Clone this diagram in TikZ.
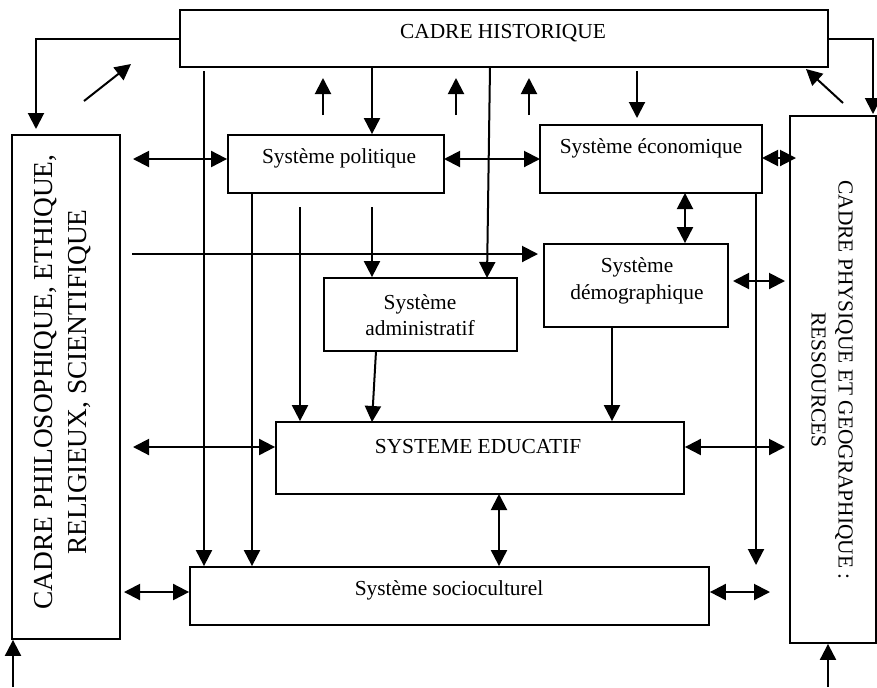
\documentclass[tikz,border=0pt]{standalone}
\usepackage{fontspec}
\setmainfont{Liberation Serif}
\usetikzlibrary{arrows.meta,fit}
\begin{document}
\begin{tikzpicture}[x=0.5pt,y=-0.5pt,
  box/.style={draw,line width=0.9pt,inner sep=0pt},
  lbl/.style={inner sep=0pt,align=center,font=\fontsize{10.7}{13.5}\selectfont},
  big/.style={inner sep=0pt,align=center,font=\fontsize{13.7}{17}\selectfont},
  arr/.style={line width=1pt,-{Triangle[length=8pt,width=8pt]}},
  darr/.style={line width=1pt,{Triangle[length=8pt,width=8pt]}-{Triangle[length=8pt,width=8pt]}}]
\useasboundingbox (0,0) rectangle (877,687);
% boxes
\node[box,fit={(180,10)(828,67)}] (hist) {};
\node[box,fit={(12,135)(120,639)}] (philo) {};
\node[box,fit={(790,116)(876,643)}] (phys) {};
\node[box,fit={(228,135)(444,193)}] (pol) {};
\node[box,fit={(540,125)(762,193)}] (eco) {};
\node[box,fit={(544,244)(728,327)}] (demo) {};
\node[box,fit={(324,278)(517,351)}] (admin) {};
\node[box,fit={(276,422)(684,494)}] (edu) {};
\node[box,fit={(190,567)(709,625)}] (socio) {};
% labels
\node[lbl] (thist) at (503,33) {CADRE HISTORIQUE};
\node[lbl] (tpol) at (339,158) {Système politique};
\node[lbl] (teco) at (651,148) {Système économique};
\node[lbl] (tdemo) at (637,281) {Système\\démographique};
\node[lbl,font=\fontsize{10.7}{13}\selectfont] (tadmin) at (420,315) {Système\\administratif};
\node[lbl] (tedu) at (478,447) {SYSTEME EDUCATIF};
\node[lbl] (tsocio) at (449,590) {Système socioculturel};
\node[big,rotate=90] (tphilo) at (63,382) {CADRE PHILOSOPHIQUE, ETHIQUE,\\RELIGIEUX, SCIENTIFIQUE};
\node[lbl,rotate=-90] (tphys) at (832,380) {CADRE PHYSIQUE ET GEOGRAPHIQUE :\\RESSOURCES};
% free coordinates
\coordinate (ltip) at (36,129);
\coordinate (rtip) at (873,114);
\coordinate (d1a) at (84,101); \coordinate (d1b) at (131,64);
\coordinate (d2a) at (843,103); \coordinate (d2b) at (806,69);
\coordinate (bl) at (13,687); \coordinate (br) at (828,687);
\coordinate (u1a) at (323,115); \coordinate (u1b) at (323,78);
\coordinate (u2a) at (456,115); \coordinate (u2b) at (456,78);
\coordinate (u3a) at (529,115); \coordinate (u3b) at (529,78);
\coordinate (v1) at (204,71);
\coordinate (p1) at (252,193);
\coordinate (p2) at (300,207);
\coordinate (p3) at (372,207);
\coordinate (h1) at (372,67);
\coordinate (h2) at (490,67); \coordinate (a2) at (487,278);
\coordinate (h3) at (637,71); \coordinate (h3b) at (637,118);
\coordinate (e1) at (685,193);
\coordinate (lh) at (132,254); \coordinate (lht) at (538,254);
\coordinate (dm) at (612,327);
\coordinate (ad1) at (376,351); \coordinate (ad2) at (372,422);
\coordinate (ev) at (756,193); \coordinate (evb) at (756,565);
\coordinate (lpol) at (133,159); \coordinate (pe) at (444,159); \coordinate (ew) at (540,159);
\coordinate (ee) at (762,158); \coordinate (pw) at (796,158);
\coordinate (de) at (733,281); \coordinate (dp) at (785,281);
\coordinate (ledu) at (133,447); \coordinate (redu) at (785,447);
\coordinate (es) at (499,494);
\coordinate (lso) at (124,592); \coordinate (rso) at (770,592);
% connectors
\draw[arr] (hist.west) -| (ltip);
\draw[arr] (hist.east) -| (rtip);
\draw[arr] (d1a) -- (d1b);
\draw[arr] (d2a) -- (d2b);
\draw[arr] (bl) -- (bl |- philo.south);
\draw[arr] (br) -- (br |- phys.south);
\draw[arr] (u1a) -- (u1b);
\draw[arr] (u2a) -- (u2b);
\draw[arr] (u3a) -- (u3b);
\draw[arr] (v1) -- (v1 |- socio.north);
\draw[arr] (p1) -- (p1 |- socio.north);
\draw[arr] (p2) -- (p2 |- edu.north);
\draw[arr] (p3) -- (p3 |- admin.north);
\draw[arr] (h1) -- (h1 |- pol.north);
\draw[arr] (h2) -- (a2);
\draw[arr] (h3) -- (h3b);
\draw[darr] (e1) -- (e1 |- demo.north);
\draw[arr] (lh) -- (lht);
\draw[arr] (dm) -- (dm |- edu.north);
\draw[arr] (ad1) -- (ad2);
\draw[arr] (ev) -- (evb);
\draw[darr] (lpol) -- (lpol -| pol.west);
\draw[darr] (pe) -- (ew);
\draw[darr] (ee) -- (pw);
\draw[darr] (de) -- (dp);
\draw[darr] (ledu) -- (ledu -| edu.west);
\draw[darr] (redu -| edu.east) -- (redu);
\draw[darr] (es) -- (es |- socio.north);
\draw[darr] (lso) -- (lso -| socio.west);
\draw[darr] (rso -| socio.east) -- (rso);
\end{tikzpicture}
\end{document}
